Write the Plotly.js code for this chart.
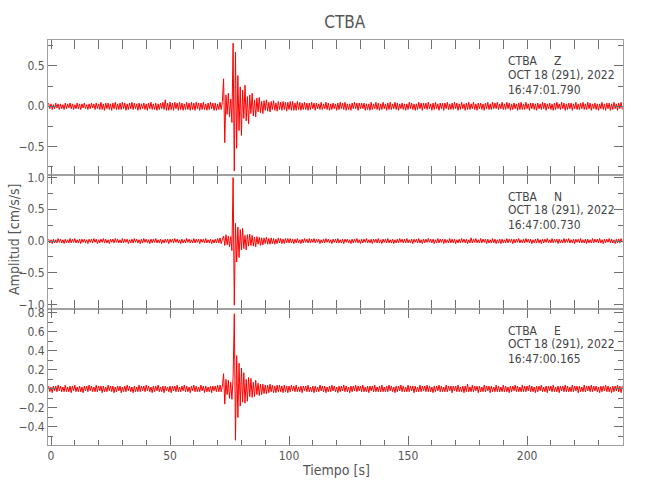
<!DOCTYPE html>
<html>
<head>
<meta charset="utf-8">
<script src="https://cdn.plot.ly/plotly-3.0.1.min.js"></script>
<style>html,body{margin:0;padding:0;background:#fff;}#chart{width:650px;height:500px;}</style>
</head>
<body>
<div id="chart"></div>
<script>
// Station / component labels
const station = 'CTBA';
const components = ['Z', 'N', 'E'];
const dateLabel = 'OCT 18 (291), 2022';
const startTimes = ['16:47:01.790', '16:47:00.730', '16:47:00.165'];

const tStart = -1.0;
const dt = 0.5;

// Amplitudes, in units of 0.01 cm/s/s
const ampZ = [
4,-3,3,-4,2,-3,4,-2,3,-4,3,-3,2,-4,4,-3,3,-2,4,-3,
3,-4,2,-3,4,-3,3,-4,3,-2,4,-3,2,-4,3,-3,4,-2,3,-4,
4,-3,3,-4,5,-4,3,-5,4,-3,4,-4,3,-5,4,-3,5,-4,3,-4,
4,-4,5,-3,4,-5,3,-4,4,-3,5,-4,4,-3,3,-5,4,-4,3,-3,
4,-4,3,-5,4,-3,5,-4,3,-4,4,-5,3,-4,4,-3,5,-4,8,-5,
4,-5,5,-4,4,-5,5,-3,4,-5,5,-4,4,-5,3,-4,5,-4,4,-5,
5,-4,4,-5,5,-3,4,-5,4,-4,5,-4,3,-5,4,-4,5,-3,4,-5,
4,-5,3,-4,5,-4,6,34,-45,14,-10,16,-13,9,-20,78,-80,67,-52,38,
-30,24,-36,20,-15,26,-18,12,-22,14,-9,16,-12,8,-13,10,-7,11,-8,6,
-9,7,-5,8,-6,5,-7,6,-4,7,-5,4,-6,6,-4,5,-5,6,-4,5,
-6,5,-4,6,-5,6,-5,4,-5,6,-4,5,-5,4,-4,5,-4,4,-5,4,
-4,5,-3,4,-5,4,-3,3,-4,5,-4,3,-3,5,-4,4,-5,3,-4,4,
-3,3,-5,4,-4,5,-3,4,-4,5,-5,3,-4,3,-5,4,-3,5,-3,4,
-5,4,-3,4,-3,4,-5,3,-4,3,-5,5,-4,3,-3,5,-4,4,-5,3,
-4,5,-3,3,-5,4,-4,5,-4,3,-3,5,-4,4,-5,3,-3,4,-4,3,
-5,3,-4,5,-3,4,-4,3,-5,3,-4,5,-3,4,-5,4,-3,4,-4,5,
-3,3,-5,4,-4,5,-3,3,-5,4,-3,4,-5,4,-3,5,-4,3,-4,4,
-4,5,-3,4,-5,3,-4,5,-3,3,-5,4,-4,5,-4,3,-3,5,-4,3,
-5,4,-3,4,-4,3,-5,4,-3,5,-4,3,-4,5,-3,4,-3,5,-4,3,
-3,5,-4,3,-4,5,-3,4,-5,3,-4,4,-3,3,-5,4,-4,5,-4,3,
-4,5,-3,3,-5,4,-3,4,-4,3,-5,4,-3,3,-4,5,-3,4,-5,3,
-3,4,-4,3,-5,4,-4,5,-3,3,-4,5,-3,4,-5,3,-4,4,-3,4,
-5,3,-3,5,-4,3,-4,4,-3,5,-4,3,-4,5,-3,4,-5,3,-3,4,
-4,3,-5,3,-3,5,-4,3,-5,4,-3,4,-5,3,-4,5,-3,3,-5,4,
-3,5,-4
];
const ampN = [
3,-3,2,-4,3,-3,2,-3,4,-2,3,-3,2,-4,3,-3,2,-3,4,-3,
3,-2,4,-3,2,-3,3,-4,3,-2,3,-3,2,-4,3,-2,3,-3,4,-2,
3,-4,2,-3,3,-2,4,-3,3,-3,2,-4,3,-2,3,-3,4,-2,3,-3,
2,-3,4,-3,3,-2,3,-4,2,-3,3,-3,4,-2,3,-3,2,-4,3,-3,
4,-2,3,-3,2,-4,3,-3,3,-2,4,-3,2,-3,3,-4,2,-3,3,-2,
3,-4,3,-2,3,-3,4,-2,3,-3,2,-4,3,-3,2,-3,4,-2,3,-3,
2,-3,4,-3,3,-2,3,-4,3,-2,3,-3,4,-3,2,-3,3,-4,2,-3,
3,-3,4,-3,5,-4,3,8,-7,10,-6,8,-9,7,-15,100,-101,28,-33,22,
-26,18,-14,20,-12,9,-14,10,-8,11,-7,9,-8,6,-9,7,-5,6,-7,5,
-6,5,-4,6,-5,4,-5,5,-4,4,-5,3,-4,5,-3,4,-4,3,-4,4,
-3,4,-3,4,-3,3,-4,3,-3,4,-3,2,-4,3,-3,4,-2,3,-3,4,
-3,3,-2,4,-3,3,-2,3,-4,2,-3,3,-3,4,-2,3,-3,2,-4,3,
-2,3,-3,4,-3,2,-3,3,-4,3,-2,3,-3,2,-4,3,-3,3,-2,4,
-3,2,-4,3,-3,3,-2,4,-3,2,-3,3,-4,3,-2,3,-3,4,-3,2,
-4,3,-2,3,-3,4,-3,2,-3,3,-4,2,-3,3,-3,4,-2,3,-3,3,
-3,4,-3,2,-3,3,-4,3,-2,3,-3,4,-3,2,-4,3,-3,3,-2,4,
-2,3,-3,3,-4,2,-3,4,-3,3,-2,3,-4,3,-3,2,-3,4,-3,3,
-3,3,-4,2,-3,3,-3,4,-2,3,-3,3,-4,2,-3,5,-3,3,-2,4,
-3,2,-3,4,-3,3,-2,3,-4,3,-3,2,-3,4,-3,3,-4,2,-3,3,
-4,3,-3,2,-3,4,-3,3,-2,3,-4,3,-3,3,-2,4,-3,2,-3,3,
-3,4,-2,3,-3,3,-4,2,-3,3,-3,4,-3,2,-4,3,-3,3,-2,4,
-3,2,-3,4,-3,3,-2,3,-4,3,-3,2,-3,4,-3,3,-2,4,-3,2,
-3,3,-4,3,-2,3,-3,4,-3,2,-3,3,-4,3,-3,2,-3,4,-3,3,
-2,3,-3,4,-3,2,-4,3,-3,3,-2,4,-3,3,-3,2,-4,3,-3,3,
-3,4,-2
];
const ampE = [
3,-3,2,-4,3,-2,3,-3,4,-2,3,-3,2,-3,4,-3,2,-3,3,-4,
3,-2,4,-3,2,-3,3,-3,2,-4,3,-2,3,-3,4,-2,3,-3,2,-3,
4,-3,3,-2,3,-4,3,-3,2,-3,4,-2,3,-3,3,-4,2,-3,3,-2,
3,-4,2,-3,3,-3,4,-2,3,-3,2,-4,3,-3,2,-3,4,-3,3,-2,
3,-3,4,-2,3,-3,2,-4,3,-3,3,-2,4,-3,2,-3,3,-4,3,-2,
2,-3,3,-4,3,-2,3,-3,4,-3,2,-3,3,-2,4,-3,3,-3,2,-4,
3,-2,4,-3,3,-3,2,-3,4,-2,3,-4,3,-3,2,-3,3,-4,3,-2,
3,-3,4,-3,4,-3,3,16,-16,10,-6,9,-10,7,-11,12,79,-54,35,-30,
27,-18,22,-14,17,-15,10,-13,12,-8,11,-9,7,-8,9,-6,6,-7,5,-6,
5,-5,4,-5,4,-4,5,-3,4,-4,3,-4,4,-3,4,-3,3,-4,4,-3,
3,-4,3,-3,4,-2,3,-3,4,-3,2,-3,3,-4,3,-2,3,-3,4,-3,
2,-3,3,-4,3,-3,2,-3,4,-2,3,-3,3,-4,2,-3,3,-3,4,-2,
3,-3,2,-4,3,-3,3,-2,4,-3,3,-3,2,-4,3,-3,3,-2,4,-3,
3,-2,3,-3,4,-3,2,-3,3,-4,3,-2,3,-3,4,-3,2,-3,3,-3,
4,-3,2,-3,3,-3,4,-2,3,-3,2,-4,3,-3,3,-2,4,-3,3,-3,
2,-3,4,-3,3,-2,3,-4,3,-3,2,-3,4,-3,3,-2,3,-3,4,-3,
3,-3,2,-4,3,-3,3,-2,4,-3,3,-3,2,-3,4,-3,3,-2,3,-4,
3,-2,3,-3,4,-3,2,-3,3,-4,3,-3,5,-3,2,-3,4,-3,3,-2,
3,-4,3,-3,2,-3,4,-3,3,-2,3,-4,3,-3,2,-3,4,-3,3,-3,
2,-3,4,-3,3,-3,2,-4,3,-3,3,-2,4,-3,3,-3,2,-3,4,-3,
3,-3,3,-2,4,-3,3,-3,2,-4,3,-3,3,-2,4,-3,2,-3,3,-4,
3,-2,3,-3,4,-3,2,-3,3,-4,3,-2,3,-3,4,-3,3,-3,2,-3,
4,-3,3,-2,3,-4,3,-3,2,-3,4,-3,3,-2,3,-3,4,-3,3,-2,
3,-3,2,-4,3,-3,3,-2,4,-3,3,-3,2,-4,3,-3,3,-2,4,-3,
3,-4,3
];

const UNIT = 0.01; // cm/s/s per stored unit
function times(n) { const t = []; for (let i = 0; i < n; i++) t.push(tStart + i * dt); return t; }
function scaled(a) { return a.map(v => v * UNIT); }

const series = [ampZ, ampN, ampE];
const yaxes = ['y', 'y2', 'y3'];
const traces = series.map((a, k) => ({
  type: 'scatter', mode: 'lines',
  x: times(a.length), y: scaled(a),
  xaxis: 'x', yaxis: yaxes[k],
  line: {color: '#ff0000', width: 1},
  hoverinfo: 'skip', showlegend: false
}));

const TICKFONT = '"Liberation Sans Narrow", "DejaVu Sans Condensed", sans-serif';
const ANNFONT = '"DejaVu Sans Condensed", "Liberation Sans Narrow", sans-serif';

// pixel geometry helpers (plot area top 40, bottom 445)
const PT = 40, PB = 445, PH = PB - PT;
const py = px => (PB - px) / PH;
const panelTops = [40, 175, 309];

function yax(domain, range, dtick, minorDtick) {
  return {
    domain: domain, range: range, dtick: dtick, tick0: 0, tickformat: '.1f',
    ticks: 'inside', ticklen: 9, tickwidth: 1, tickcolor: '#707070',
    minor: {dtick: minorDtick, tick0: 0, ticks: 'inside', ticklen: 5, tickcolor: '#707070', showgrid: false},
    showline: true, linecolor: '#a0a0a0', linewidth: 1, mirror: 'allticks',
    showgrid: false, zeroline: false, automargin: false,
    tickfont: {family: TICKFONT, size: 12, color: '#555'}
  };
}

const annotations = [];
panelTops.forEach((top, k) => {
  const lines = [station + '\u00a0\u00a0\u00a0\u00a0\u00a0' + components[k], dateLabel, startTimes[k]];
  const offs = [21.5, 35, 50];
  lines.forEach((txt, j) => annotations.push({
    xref: 'paper', yref: 'paper', x: (506 - 48) / 575, y: py(top + offs[j]),
    xanchor: 'left', yanchor: 'middle', text: txt, showarrow: false,
    font: {family: ANNFONT, size: 12, color: '#444'}
  }));
});
annotations.push({
  xref: 'paper', yref: 'paper', x: 0.5, y: py(470), xanchor: 'center', yanchor: 'middle',
  text: 'Tiempo [s]', showarrow: false, font: {family: TICKFONT, size: 14, color: '#555'}
});
annotations.push({
  xref: 'paper', yref: 'paper', x: (14 - 48) / 575, y: py(240), xanchor: 'center', yanchor: 'middle',
  text: 'Amplitud [cm/s/s]', textangle: -90, showarrow: false,
  font: {family: TICKFONT, size: 14, color: '#555'}
});

const layout = {
  width: 650, height: 500,
  margin: {l: 48, r: 27, t: 40, b: 55, pad: 0},
  paper_bgcolor: '#ffffff', plot_bgcolor: '#ffffff',
  showlegend: false,
  title: {text: station, x: 0.516, xanchor: 'center', xref: 'paper', y: 1 - 22 / 500, yanchor: 'middle',
          font: {family: TICKFONT, size: 17, color: '#555'}},
  xaxis: {
    anchor: 'y3', domain: [0, 1], range: [-1.26, 240.3], tick0: 0, dtick: 50,
    ticks: 'inside', ticklen: 9, tickwidth: 1, tickcolor: '#707070',
    minor: {dtick: 10, tick0: 0, ticks: 'inside', ticklen: 5, tickcolor: '#707070', showgrid: false},
    showline: true, linecolor: '#a0a0a0', linewidth: 1, mirror: 'allticks',
    showgrid: false, zeroline: false, automargin: false,
    tickfont: {family: TICKFONT, size: 12, color: '#555'}
  },
  yaxis: yax([py(175), 1], [-0.85, 0.82], 0.5, 0.25),
  yaxis2: yax([py(309), py(175)], [-1.07, 1.04], 0.5, 0.25),
  yaxis3: yax([0, py(309)], [-0.59, 0.84], 0.2, 0.1),
  annotations: annotations
};

Plotly.newPlot('chart', traces, layout, {staticPlot: true, displayModeBar: false});
</script>
</body>
</html>
